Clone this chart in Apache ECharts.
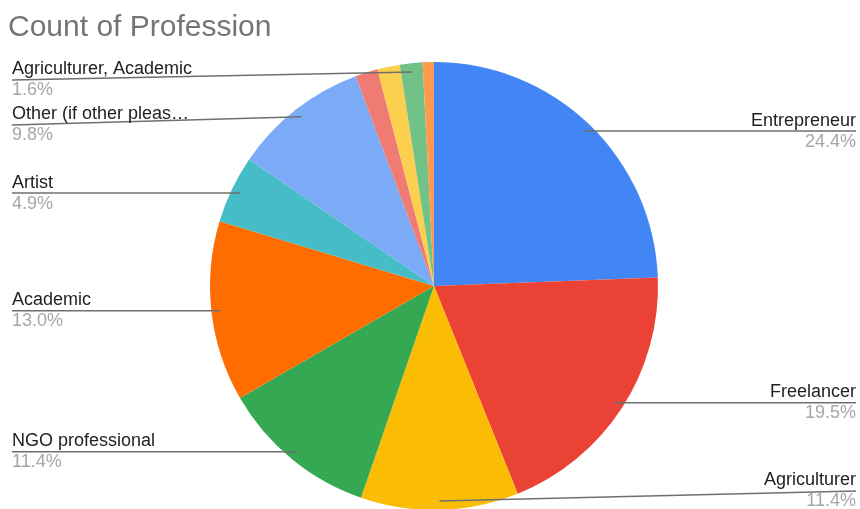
<!DOCTYPE html>
<html>
<head>
<meta charset="utf-8">
<style>
  html, body { margin: 0; padding: 0; background: #fff; }
  #chart { width: 860px; height: 509px; }
</style>
<script src="https://cdn.jsdelivr.net/npm/echarts@6/dist/echarts.min.js"></script>
</head>
<body>
<div id="chart"></div>
<script>
// Survey answers: number of respondents per profession (clockwise from 12 o'clock)
const professions = [
  'Entrepreneur', 'Freelancer', 'Agriculturer', 'NGO professional', 'Academic',
  'Artist', 'Other (if other pleas\u2026', 'Academic, Entrepreneur', 'Artist, Freelancer',
  'Agriculturer, Academic', 'Student'
];
const counts = [30, 24, 14, 14, 16, 6, 12, 2, 2, 2, 1];
// Slices that carry a callout label
const labelled = [true, true, true, true, true, true, true, false, false, true, false];
const colors = [
  '#4285F4', '#EA4335', '#FBBC04', '#34A853', '#FF6D01', '#46BDC6',
  '#7BAAF7', '#F07B72', '#FCD04F', '#71C287', '#FF994D'
];

const FONT = 'Liberation Sans, Arial, sans-serif';
const CX = 434, CY = 286, R = 224;
const R_ANCHOR = 215;          // callout lines start just inside the rim
const LEFT_X = 12, RIGHT_X = 856;
const Y_MIN = 80, Y_MAX = 491, GAP = 45;

// Anchor point of every slice at its mid angle, and the height of its callout
const total = counts.reduce((a, b) => a + b, 0);
let acc = 0;
const anchors = counts.map(v => {
  const mid = (acc + v / 2) / total * Math.PI * 2;
  acc += v;
  return {
    x: CX + R_ANCHOR * Math.sin(mid),
    y: CY - R_ANCHOR * Math.cos(mid),
    left: Math.sin(mid) < 0
  };
});
const labelY = anchors.map(a => a.y);
[true, false].forEach(side => {
  const idx = anchors.map((a, i) => i).filter(i => labelled[i] && anchors[i].left === side)
    .sort((a, b) => anchors[a].y - anchors[b].y);
  let prev = -Infinity;
  idx.forEach(i => {
    let y = Math.min(Math.max(labelY[i], Y_MIN), Y_MAX);
    y = Math.max(y, prev + GAP);
    labelY[i] = y;
    prev = y;
  });
  let next = Infinity;
  idx.slice().reverse().forEach(i => {
    labelY[i] = Math.min(labelY[i], Y_MAX, next - GAP);
    next = labelY[i];
  });
});

const sliceData = professions.map((name, i) => ({
  name: name, value: counts[i], itemStyle: { color: colors[i] }
}));

// Same slices, transparent, drawn on top so the callout lines sit over the pie
const calloutData = professions.map((name, i) => {
  const item = { name: name, value: counts[i] };
  if (!labelled[i]) {
    item.label = { show: false };
    item.labelLine = { show: false };
  }
  return item;
});

const chart = echarts.init(document.getElementById('chart'), null, { renderer: 'canvas' });
chart.setOption({
  animation: false,
  backgroundColor: '#ffffff',
  title: {
    text: 'Count of Profession',
    left: 3,
    top: 8,
    textStyle: { fontFamily: FONT, fontSize: 30, fontWeight: 'normal', color: '#757575' }
  },
  series: [{
    type: 'pie',
    z: 2,
    center: [CX, CY],
    radius: R,
    startAngle: 90,
    clockwise: true,
    silent: true,
    label: { show: false },
    labelLine: { show: false },
    data: sliceData
  }, {
    type: 'pie',
    z: 5,
    center: [CX, CY],
    radius: R,
    startAngle: 90,
    clockwise: true,
    silent: true,
    avoidLabelOverlap: false,
    percentPrecision: 1,
    itemStyle: { color: 'rgba(0,0,0,0)' },
    data: calloutData,
    label: {
      show: true,
      position: 'outside',
      fontFamily: FONT,
      formatter: p => '{n|' + p.name + '}\n{p|' + p.percent.toFixed(1) + '%}',
      rich: {
        n: { fontSize: 18, lineHeight: 21, color: '#222222', fontFamily: FONT },
        p: { fontSize: 18, lineHeight: 21, color: '#a6a6a6', fontFamily: FONT }
      }
    },
    labelLine: {
      show: true,
      length: 4,
      length2: 4,
      smooth: false,
      lineStyle: { color: '#6f6f6f', width: 1.5 }
    },
    labelLayout: params => {
      const i = params.dataIndex;
      if (!labelled[i]) return {};
      const a = anchors[i];
      const ex = a.left ? LEFT_X : RIGHT_X;
      return {
        x: ex,
        y: labelY[i],
        align: a.left ? 'left' : 'right',
        verticalAlign: 'middle',
        labelLinePoints: [[a.x, a.y], [ex, labelY[i]]]
      };
    }
  }]
});
</script>
</body>
</html>
